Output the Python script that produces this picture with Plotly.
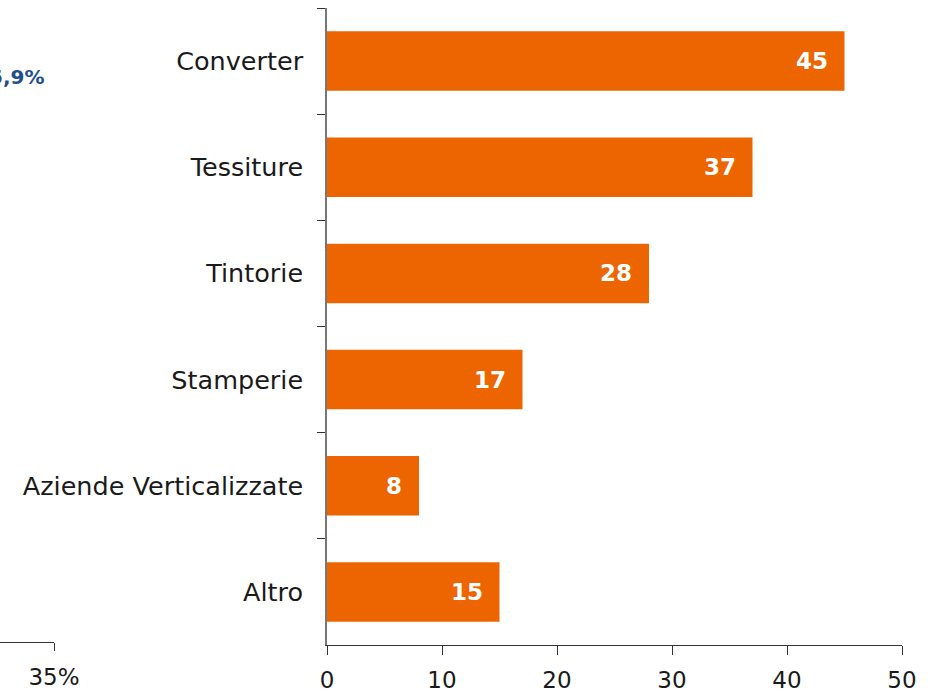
import plotly.graph_objects as go

categories = ["Converter", "Tessiture", "Tintorie", "Stamperie", "Aziende Verticalizzate", "Altro"]
values = [45, 37, 28, 17, 8, 15]
x_ticks = [0, 10, 20, 30, 40, 50]

# fragments of the neighbouring (cropped) chart on the left
left_tick_vals = [0.35]
left_tick_text = ["35%"]
left_label = "5,9%"

W, H = 932, 692
BAR = "#EC6500"
FONT = "DejaVu Sans"
TOP, BOTTOM = 8, 645          # plot area, in page pixels
PLOT_H = BOTTOM - TOP

fig = go.Figure()
fig.add_trace(go.Bar(
    y=categories, x=values, orientation="h",
    marker=dict(color=BAR, line=dict(width=0)),
    hoverinfo="skip", showlegend=False,
))
# invisible trace to hold the cropped left axis
fig.add_trace(go.Scatter(x=[0.35], y=[0], xaxis="x2", yaxis="y2",
                         mode="markers", marker=dict(opacity=0), showlegend=False,
                         hoverinfo="skip"))

for c, v in zip(categories, values):
    fig.add_annotation(x=v, y=c, xref="x", yref="y", text=f"<b>{v}</b>",
                       showarrow=False, xanchor="right", xshift=-15,
                       font=dict(family=FONT, size=23, color="white"))

fig.add_annotation(x=46 / W, y=(BOTTOM - 77) / PLOT_H, xref="paper", yref="paper",
                   text=f"<b>{left_label}</b>", showarrow=False, xanchor="right",
                   yanchor="middle", font=dict(family=FONT, size=20, color="#1F4E8C"))

fig.update_layout(
    width=W, height=H,
    margin=dict(l=0, r=0, t=TOP, b=H - BOTTOM, autoexpand=False),
    plot_bgcolor="white", paper_bgcolor="white",
    bargap=0.44,
    font=dict(family=FONT, size=23, color="#1a1a1a"),
    xaxis=dict(
        domain=[327 / W, 902 / W], range=[0, 50], tickvals=x_ticks, automargin=False,
        showgrid=False, zeroline=False, showline=True, linecolor="#333333", linewidth=1,
        ticks="outside", ticklen=9, tickcolor="#333333", tickwidth=1,
        ticklabelstandoff=5,
        tickfont=dict(family=FONT, size=23, color="#1a1a1a"), anchor="y",
    ),
    yaxis=dict(
        categoryorder="array", categoryarray=categories, autorange="reversed",
        automargin=False,
        showgrid=False, zeroline=False, showline=True, linecolor="#777777", linewidth=1.5,
        ticks="outside", ticklen=8, tickcolor="#333333", tickson="boundaries",
        ticklabelstandoff=17,
        tickfont=dict(family=FONT, size=25.5, color="#1a1a1a"), anchor="x",
    ),
    xaxis2=dict(
        domain=[0, 54 / W], range=[0.31, 0.35], tickvals=left_tick_vals, ticktext=left_tick_text,
        anchor="y2", showgrid=False, zeroline=False, showline=True, automargin=False,
        linecolor="#333333", linewidth=1, ticks="outside", ticklen=8, tickcolor="#333333",
        ticklabelstandoff=6,
        tickfont=dict(family=FONT, size=23, color="#1a1a1a"),
    ),
    yaxis2=dict(domain=[3 / PLOT_H, 1], range=[0, 1], visible=False, anchor="x2",
                automargin=False),
)

fig.write_html("out.html", config={"displayModeBar": False},
               post_script="document.body.style.margin='0';document.body.style.overflow='hidden';")
